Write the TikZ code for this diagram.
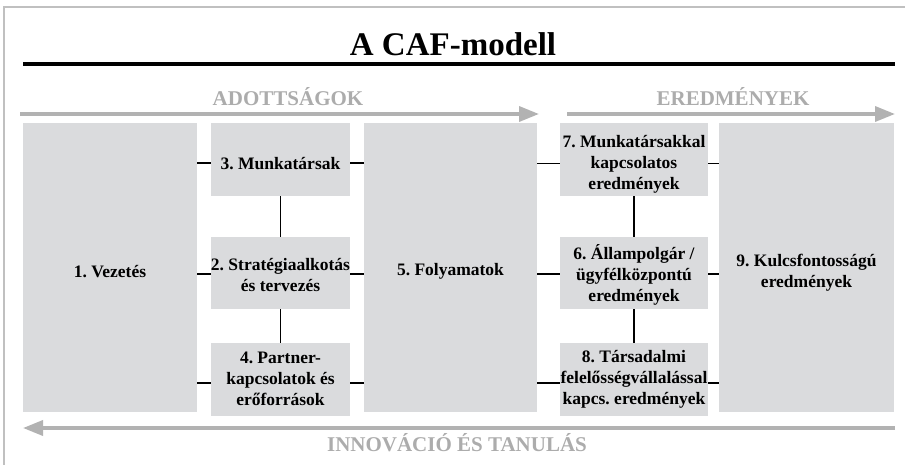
\documentclass[tikz,border=0pt]{standalone}
\usepackage{fontspec}
\setmainfont{Liberation Serif}
\usetikzlibrary{arrows.meta}
\definecolor{boxgray}{RGB}{218,219,221}
\definecolor{arrgray}{RGB}{178,178,178}
\definecolor{txtgray}{RGB}{172,172,172}
\definecolor{framegray}{RGB}{192,192,192}
\tikzset{
  cafbox/.style={fill=boxgray, draw=none, inner sep=0pt},
  boxtext/.style={inner sep=0pt, align=center,
    font=\bfseries\fontsize{17.5}{21}\selectfont},
  link/.style={line width=1.6pt, black},
  band/.style={line width=3.5pt, arrgray, -{Triangle[length=20pt,width=15pt]}},
  header/.style={text=txtgray, font=\bfseries\fontsize{21}{24}\selectfont, anchor=base, inner sep=0pt}
}
\begin{document}
\frenchspacing
\begin{tikzpicture}[x=1pt,y=-1pt]
\useasboundingbox (0,0) rectangle (905,465);
% frame
\coordinate (fa) at (4,465);
\coordinate (fb) at (4,7);
\coordinate (fc) at (905,7);
\draw[framegray, line width=1.5pt] (fa) -- (fb) -- (fc);
% title
\node[anchor=base, inner sep=0pt, font=\bfseries\fontsize{33}{36}\selectfont] (title) at (453,56) {A CAF-modell};
\coordinate (r1) at (23,64);
\coordinate (r2) at (895,64);
\draw[line width=3.8pt] (r1) -- (r2);
% headers and bands
\node[header] (hadott) at (288,106) {ADOTTSÁGOK};
\node[header] (heredm) at (733,106) {EREDMÉNYEK};
\node[header] (hinno) at (457,451) {INNOVÁCIÓ ÉS TANULÁS};
\coordinate (a1s) at (20,114);
\coordinate (a1e) at (539,114);
\coordinate (a2s) at (567,114);
\coordinate (a2e) at (895,114);
\coordinate (a3s) at (895,428);
\coordinate (a3e) at (23,428);
\draw[band] (a1s) -- (a1e);
\draw[band] (a2s) -- (a2e);
\draw[band] (a3s) -- (a3e);
% boxes
\node[cafbox, minimum width=174pt, minimum height=289pt] (b1) at (110,267.5) {};
\node[cafbox, minimum width=139pt, minimum height=73pt] (b3) at (280.5,159.5) {};
\node[cafbox, minimum width=139pt, minimum height=72pt] (b2) at (280.5,273) {};
\node[cafbox, minimum width=139pt, minimum height=73pt] (b4) at (280.5,379.5) {};
\node[cafbox, minimum width=173pt, minimum height=289pt] (b5) at (450.5,267.5) {};
\node[cafbox, minimum width=148pt, minimum height=73pt] (b7) at (634,159.5) {};
\node[cafbox, minimum width=148pt, minimum height=72pt] (b6) at (634,273) {};
\node[cafbox, minimum width=148pt, minimum height=73pt] (b8) at (634,379.5) {};
\node[cafbox, minimum width=175pt, minimum height=289pt] (b9) at (806.5,267.5) {};
% box texts
\node[boxtext] (t1) at ([yshift=-4pt]b1.center) {1. Vezetés};
\node[boxtext] (t3) at ([yshift=-4.5pt]b3.center) {3. Munkatársak};
\node[boxtext] (t2) at ([yshift=-2.5pt]b2.center) {2. Stratégiaalkotás\\és tervezés};
\node[boxtext] (t4) at ([yshift=1pt]b4.center) {4. Partner-\\kapcsolatok és\\erőforrások};
\node[boxtext] (t5) at ([yshift=-4pt]b5.center) {5. Folyamatok};
\node[boxtext] (t7) at ([yshift=-5pt]b7.center) {7. Munkatársakkal\\kapcsolatos\\eredmények};
\node[boxtext] (t6) at ([yshift=-1.5pt]b6.center) {6. Állampolgár /\\ügyfélközpontú\\eredmények};
\node[boxtext] (t8) at ([yshift=0pt]b8.center) {8. Társadalmi\\felelősségvállalással\\kapcs. eredmények};
\node[boxtext] (t9) at ([yshift=-5pt]b9.center) {9. Kulcsfontosságú\\eredmények};
% vertical links
\draw[link] (b3.south) -- (b2.north);
\draw[link] (b2.south) -- (b4.north);
\draw[link] (b7.south) -- (b6.north);
\draw[link] (b6.south) -- (b8.north);
% horizontal links
\draw[link] ([yshift=-3.5pt]b3.west) -- ([yshift=-3.5pt]b3.west -| b1.east);
\draw[link] ([yshift=-3.5pt]b3.east) -- ([yshift=-3.5pt]b3.east -| b5.west);
\draw[link] ([yshift=-1pt]b2.west) -- ([yshift=-1pt]b2.west -| b1.east);
\draw[link] ([yshift=-1pt]b2.east) -- ([yshift=-1pt]b2.east -| b5.west);
\draw[link] ([yshift=-3.5pt]b4.west) -- ([yshift=-3.5pt]b4.west -| b1.east);
\draw[link] ([yshift=-3.5pt]b4.east) -- ([yshift=-3.5pt]b4.east -| b5.west);
\draw[link] ([yshift=-4pt]b7.west) -- ([yshift=-4pt]b7.west -| b5.east);
\draw[link] ([yshift=-4pt]b7.east) -- ([yshift=-4pt]b7.east -| b9.west);
\draw[link] ([yshift=-1pt]b6.west) -- ([yshift=-1pt]b6.west -| b5.east);
\draw[link] ([yshift=-1pt]b6.east) -- ([yshift=-1pt]b6.east -| b9.west);
\draw[link] ([yshift=-3.5pt]b8.west) -- ([yshift=-3.5pt]b8.west -| b5.east);
\draw[link] ([yshift=-3.5pt]b8.east) -- ([yshift=-3.5pt]b8.east -| b9.west);
\end{tikzpicture}
\end{document}
